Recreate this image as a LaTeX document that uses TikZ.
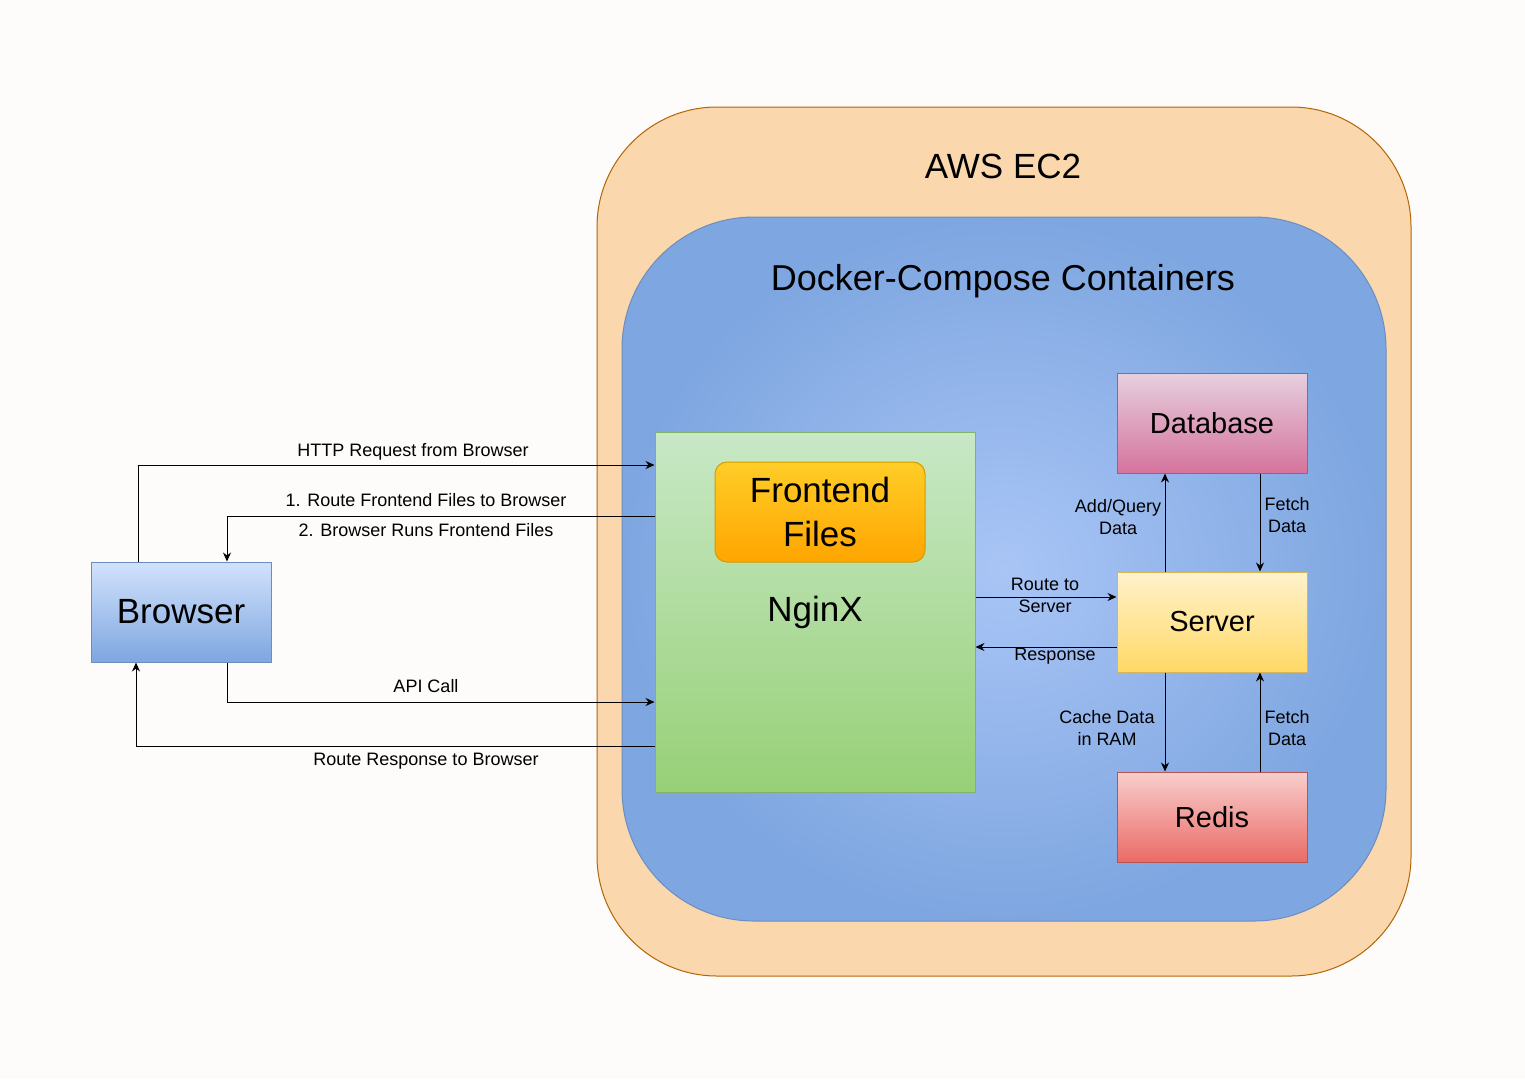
\documentclass[tikz,border=0pt]{standalone}
\usepackage{fontspec}
\setmainfont{Liberation Sans}
\usetikzlibrary{arrows.meta}
\definecolor{bgc}{RGB}{253,252,250}
\definecolor{awsfill}{RGB}{250,215,172}
\definecolor{awsline}{RGB}{180,101,4}
\definecolor{dockin}{RGB}{169,197,246}
\definecolor{dockout}{RGB}{126,166,224}
\definecolor{dockline}{RGB}{108,142,191}
\definecolor{brtop}{RGB}{210,226,252}
\definecolor{brbot}{RGB}{126,166,224}
\definecolor{brline}{RGB}{108,142,191}
\definecolor{ngtop}{RGB}{200,232,198}
\definecolor{ngbot}{RGB}{151,208,119}
\definecolor{ngline}{RGB}{130,179,102}
\definecolor{fftop}{RGB}{255,205,40}
\definecolor{ffbot}{RGB}{255,165,0}
\definecolor{ffline}{RGB}{215,155,0}
\definecolor{dbtop}{RGB}{230,208,222}
\definecolor{dbbot}{RGB}{213,115,157}
\definecolor{dbline}{RGB}{153,97,133}
\definecolor{svtop}{RGB}{255,242,204}
\definecolor{svbot}{RGB}{255,217,102}
\definecolor{svline}{RGB}{214,182,86}
\definecolor{rdtop}{RGB}{248,206,204}
\definecolor{rdbot}{RGB}{234,107,102}
\definecolor{rdline}{RGB}{184,84,80}
\begin{document}
\begin{tikzpicture}[x=1pt,y=-1pt,
  box/.style={draw, line width=1pt, inner sep=0pt, align=center},
  svc/.style={box, minimum width=190, minimum height=100, font=\fontsize{29}{34}\selectfont},
  big/.style={font=\fontsize{35}{44}\selectfont},
  arr/.style={line width=1pt, -{Stealth[length=9pt,width=8pt]}},
  lbl/.style={font=\fontsize{18}{22}\selectfont, inner sep=0pt, align=center}]
\fill[bgc] (0,0) rectangle (1525,1079);
\useasboundingbox (0,0) rectangle (1525,1079);
% containers
\draw[line width=1pt, draw=awsline, fill=awsfill, rounded corners=120] (597,107) rectangle (1411,976);
\draw[line width=1pt, draw=dockline, inner color=dockin, outer color=dockout, rounded corners=132] (622,217) rectangle (1386,921);
\node[big, inner sep=0pt] (aws) at (1003,166) {AWS EC2};
\node[font=\fontsize{36}{44}\selectfont, inner sep=0pt] (dock) at (1003,281) {Docker-Compose Containers};
% boxes
\node[box, big, minimum width=180, minimum height=100, draw=brline, top color=brtop, bottom color=brbot] (browser) at (181,612) {Browser};
\node[box, big, minimum width=320, minimum height=360, draw=ngline, top color=ngtop, bottom color=ngbot] (nginx) at (815,612) {NginX};
\node[box, big, minimum width=210, minimum height=100, rounded corners=12, draw=ffline, top color=fftop, bottom color=ffbot] (front) at (820,512) {Frontend\\Files};
\node[svc, draw=dbline, top color=dbtop, bottom color=dbbot] (database) at (1212,423) {Database};
\node[svc, draw=svline, top color=svtop, bottom color=svbot] (server) at (1212,622) {Server};
\node[svc, minimum height=90, draw=rdline, top color=rdtop, bottom color=rdbot] (redis) at (1212,817) {Redis};
% connectors
\draw[arr] ([xshift=-43pt]browser.north) |- (nginx.west |- 0,465);
\draw[arr] (nginx.west |- 0,516) -| ([xshift=46pt]browser.north);
\draw[arr] ([xshift=46pt]browser.south) |- (nginx.west |- 0,702);
\draw[arr] (nginx.west |- 0,746) -| ([xshift=-45pt]browser.south);
\draw[arr] (nginx.east |- 0,597) -- (server.west |- 0,597);
\draw[arr] (server.west |- 0,647) -- (nginx.east |- 0,647);
\draw[arr] ([xshift=-47pt]server.north) -- ([xshift=-47pt]database.south);
\draw[arr] ([xshift=48pt]database.south) -- ([xshift=48pt]server.north);
\draw[arr] ([xshift=-47pt]server.south) -- ([xshift=-47pt]redis.north);
\draw[arr] ([xshift=48pt]redis.north) -- ([xshift=48pt]server.south);
% labels
\node[lbl] (l1) at (413,452) {HTTP Request from Browser};
\node[lbl] (l2) at (426,500) {1. Route Frontend Files to Browser};
\node[lbl] (l3) at (426,530) {2. Browser Runs Frontend Files};
\node[lbl] (l4) at (426,686) {API Call};
\node[lbl] (l5) at (426,761) {Route Response to Browser};
\node[lbl] (l6) at (1045,595) {Route to\\Server};
\node[lbl] (l7) at (1055,656) {Response};
\node[lbl] (l8) at (1118,517) {Add/Query\\Data};
\node[lbl] (l9) at (1287,515) {Fetch\\Data};
\node[lbl] (l10) at (1107,728) {Cache Data\\in RAM};
\node[lbl] (l11) at (1287,728) {Fetch\\Data};
\end{tikzpicture}
\end{document}
